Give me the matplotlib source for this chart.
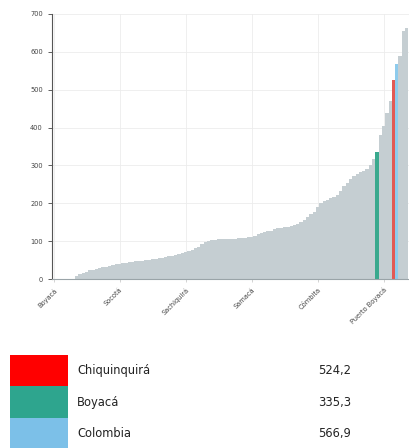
import matplotlib.pyplot as plt
import matplotlib.patches as mpatches
import numpy as np

# values per municipio (sorted)
values = [0, 0, 0, 0, 0, 0, 0, 8, 14, 17,
          20, 23, 25, 27, 29, 31, 33, 35, 37, 39,
          41, 42, 43, 45, 46, 47, 48, 49, 50, 51,
          52, 54, 56, 57, 58, 60, 62, 64, 66, 68,
          71, 74, 78, 82, 86, 92, 97, 101, 103, 104,
          105, 105, 106, 106, 107, 107, 108, 108, 109, 110,
          111, 113, 118, 122, 124, 126, 128, 131, 134, 136,
          137, 138, 140, 143, 146, 150, 156, 165, 172, 178,
          190, 200, 205, 209, 213, 217, 222, 232, 245, 253,
          263, 272, 278, 282, 286, 290, 300, 318, 335.3, 380,
          405, 438, 470, 524.2, 566.9, 590, 655, 662]
highlight = {98: "Boyacá", 103: "Chiquinquirá", 104: "Colombia"}
tick_pos = [0, 20, 40, 60, 80, 100]
tick_labels = ["Boyacá", "Socotá", "Sachiquirá", "Samacá", "Cómbita", "Puerto Boyacá"]

legend_names = ["Chiquinquirá", "Boyacá", "Colombia"]
legend_values = ["524,2", "335,3", "566,9"]
legend_colors = ["#ff0000", "#2ea58e", "#7cc0e8"]
bar_colors = {"Chiquinquirá": "#e25a55", "Boyacá": "#3aa98e", "Colombia": "#8ecbec"}

fig = plt.figure(figsize=(4.09, 4.48), dpi=100)
ax = fig.add_axes([0.127, 0.377, 0.873, 0.592])

x = np.arange(len(values))
colors = [bar_colors[highlight[i]] if i in highlight else "#c5ced2" for i in x]
ax.bar(x, values, width=1.0, color=colors, linewidth=0, zorder=2)

ax.set_ylim(0, 700)
ax.set_xlim(-0.5, len(values) - 0.3)
ax.set_yticks(range(0, 701, 100))
ax.set_xticks(tick_pos)
ax.set_xticklabels(tick_labels, rotation=45, ha="right", rotation_mode="anchor")
ax.tick_params(axis="both", labelsize=4.8, colors="#444444", length=3, width=0.6)
ax.tick_params(axis="x", length=2, color="#cccccc")
ax.grid(True, color="#ececec", linewidth=0.6, zorder=0)
for s in ["top", "right"]:
    ax.spines[s].set_visible(False)
ax.spines["left"].set_color("#555555")
ax.spines["left"].set_linewidth(0.8)
ax.spines["bottom"].set_color("#9aa4a8")
ax.spines["bottom"].set_linewidth(0.8)

# legend table under the chart
lax = fig.add_axes([0, 0, 1, 0.21])
lax.set_xlim(0, 409)
lax.set_ylim(0, 94)
lax.axis("off")
for i, (name, val, col) in enumerate(zip(legend_names, legend_values, legend_colors)):
    top = 93 - i * 31.3
    lax.add_patch(mpatches.Rectangle((10, top - 31.3), 58, 31.3, color=col, linewidth=0))
    lax.text(77, top - 16, name, fontsize=8.3, va="center", ha="left", color="#222222")
    lax.text(318, top - 16, val, fontsize=8.3, va="center", ha="left", color="#222222")

fig.savefig("out.png", dpi=100)
